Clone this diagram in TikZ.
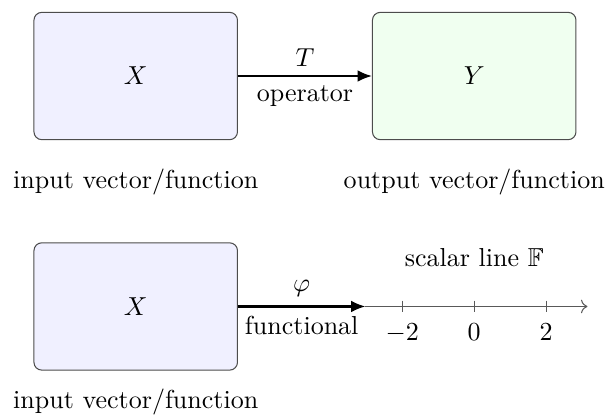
\documentclass[tikz,border=0pt]{standalone}
\usepackage{amsmath, amssymb}
\usepackage{xcolor}
\usepackage{tikz}
\usetikzlibrary{arrows.meta, positioning, calc}

\begin{document}
\begin{tikzpicture}[
    node distance=1.38cm and 1.81cm,
    space/.style={draw=black!70, rectangle, rounded corners=3pt, minimum width=2.75cm,
      minimum height=1.72cm, align=center},
    caption/.style={align=center},
    arrow/.style={thick,-{Latex[length=5.5pt,width=4.5pt]}},
    axis/.style={draw=black!65, ->}
]
\useasboundingbox (0,0) rectangle (8.216,-5.662);
\node[space, fill=blue!6] (xin) at (1.834,-1.027) {$X$};
\node[space, fill=green!6, right=of xin] (yout) {$Y$};
\node[space, fill=blue!6, below=of xin] (xfun) {$X$};

\node[caption, below=0.27cm of xin] (inlabel) {input vector/function};
\node[caption, below=0.27cm of yout] (outlabel) {output vector/function};
\node[caption, below=0.12cm of xfun] (funlabel) {input vector/function};

\draw[arrow] (xin) -- node[above] {$T$} node[below] {operator} (yout);

% scalar line
\coordinate (zero) at (yout.center |- xfun.center);
\coordinate (lstart) at ($(zero)+(-1.47,0)$);
\coordinate (lend) at ($(zero)+(1.53,0)$);
\draw[arrow] (xfun) -- node[above] {$\varphi$} node[below] {functional} (lstart);
\draw[axis] (lstart) -- (lend);
\foreach \k in {-2,0,2} {
  \draw[black!65] ($(zero)+(\k*0.486,0.08)$) -- ($(zero)+(\k*0.486,-0.08)$)
    node[below=1pt, black] {$\k$};
}
\node[above=0.41cm of zero] (scalar) {scalar line $\mathbb{F}$};
\end{tikzpicture}
\end{document}
